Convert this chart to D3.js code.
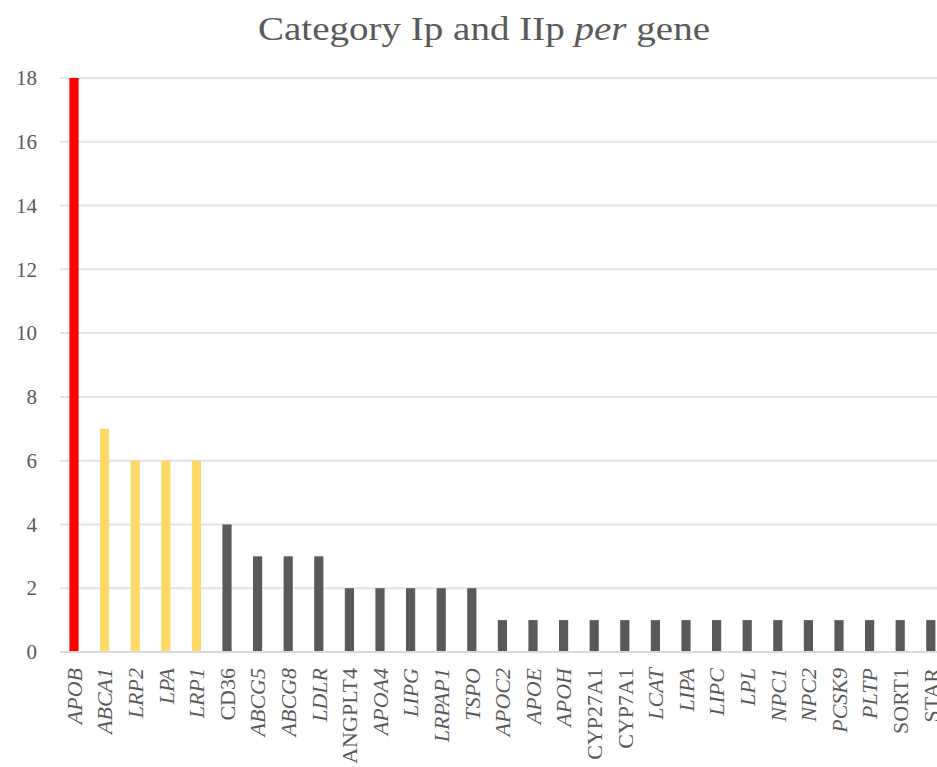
<!DOCTYPE html>
<html>
<head>
<meta charset="utf-8">
<script src="https://cdn.jsdelivr.net/npm/d3@7"></script>
<style>
  body { margin: 0; background: #fff; }
  svg { display: block; overflow: hidden; }
</style>
</head>
<body>
<div class="chart"></div>
<script>
//Data
var genes = ["APOB", "ABCA1", "LRP2", "LPA", "LRP1", "CD36", "ABCG5", "ABCG8", "LDLR", "ANGPLT4",
    "APOA4", "LIPG", "LRPAP1", "TSPO", "APOC2", "APOE", "APOH", "CYP27A1", "CYP7A1", "LCAT",
    "LIPA", "LIPC", "LPL", "NPC1", "NPC2", "PCSK9", "PLTP", "SORT1", "STAR"];
var counts = [18, 7, 6, 6, 6, 4, 3, 3, 3, 2, 2, 2, 2, 2, 1, 1, 1, 1, 1, 1, 1, 1, 1, 1, 1, 1, 1, 1, 1];
//Group per gene: 0 = red, 1 = yellow, 2 = grey
var groups = [0, 1, 1, 1, 1, 2, 2, 2, 2, 2, 2, 2, 2, 2, 2, 2, 2, 2, 2, 2, 2, 2, 2, 2, 2, 2, 2, 2, 2];
//Labels that are not set in italics
var uprightLabels = ["CD36", "ANGPLT4", "CYP27A1", "CYP7A1", "SORT1", "STAR"];
var yTicks = [0, 2, 4, 6, 8, 10, 12, 14, 16, 18];
var groupColors = ["#ff0000", "#ffd966", "#595959"];

var width = 937;
var height = 767;
var font = "'Palatino Linotype', 'Book Antiqua', Palatino, 'Liberation Serif', serif";

var svg = d3.select(".chart")
    .append("svg")
    .attr("width", width)
    .attr("height", height);

//Plot area runs off the right edge, like the cropped original
var step = 30.6;
var x = d3.scaleBand()
    .domain(genes)
    .range([74 - step / 2, 74 - step / 2 + genes.length * step])
    .paddingInner(0.7)
    .paddingOuter(0.35);

var y = d3.scaleLinear()
    .domain([0, 18])
    .range([652, 78]);

//Title
var title = svg.append("text")
    .attr("x", 484)
    .attr("y", 40)
    .attr("text-anchor", "middle")
    .attr("textLength", 452)
    .attr("lengthAdjust", "spacingAndGlyphs")
    .style("font-family", font)
    .style("font-size", "33px")
    .style("fill", "#595959");
title.append("tspan").text("Category Ip and IIp ");
title.append("tspan").style("font-style", "italic").text("per");
title.append("tspan").text(" gene");

//Gridlines
svg.append("g")
    .selectAll("line")
    .data(yTicks)
    .join("line")
    .attr("x1", 60)
    .attr("x2", width)
    .attr("y1", d => y(d))
    .attr("y2", d => y(d))
    .style("stroke", "#e3e3e3")
    .style("stroke-width", 2);

//Y axis labels
var yAxis = svg.append("g")
    .attr("transform", "translate(43,0)")
    .call(d3.axisLeft(y).tickValues(yTicks).tickSize(0).tickPadding(6));
yAxis.select(".domain").remove();
yAxis.selectAll("text")
    .style("font-family", font)
    .style("font-size", "21px")
    .style("fill", "#595959");

//Bars
svg.append("g")
    .selectAll("rect")
    .data(genes)
    .join("rect")
    .attr("x", d => x(d))
    .attr("width", x.bandwidth())
    .attr("y", (d, i) => y(counts[i]))
    .attr("height", (d, i) => y(0) - y(counts[i]))
    .style("fill", (d, i) => groupColors[groups[i]]);

//X axis labels
var xAxis = svg.append("g")
    .attr("transform", "translate(0," + y(0) + ")")
    .call(d3.axisBottom(x).tickSize(0).tickPadding(0));
xAxis.select(".domain")
    .attr("d", "M60,0H" + width)
    .style("stroke", "#d9d9d9")
    .style("stroke-width", 2);
xAxis.selectAll("text")
    .attr("transform", "rotate(-90)")
    .attr("x", -16)
    .attr("y", 0)
    .attr("dy", "0.35em")
    .style("text-anchor", "end")
    .style("font-family", font)
    .style("font-size", "22px")
    .style("font-style", d => uprightLabels.includes(d) ? "normal" : "italic")
    .style("fill", "#595959");
</script>
</body>
</html>
